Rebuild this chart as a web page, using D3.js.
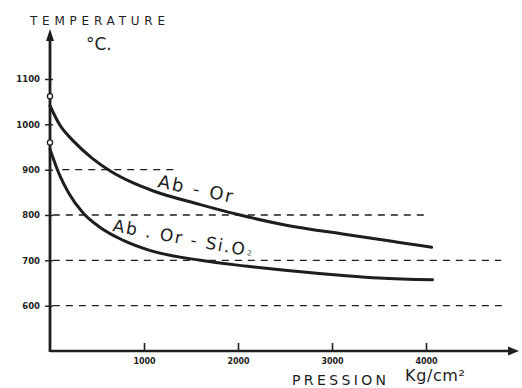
<!DOCTYPE html>
<html>
<head>
<meta charset="utf-8">
<script src="https://cdn.jsdelivr.net/npm/d3@7"></script>
<style>
  html, body { margin: 0; padding: 0; background: #fff; }
  svg { display: block; }
  text { font-family: "DejaVu Sans", "Noto Sans", sans-serif; fill: #1e1e1e; }
</style>
</head>
<body>
<script>
// ---- data (pressure in kg/cm², temperature in °C) ----
const abOrP = [0, 100, 250, 450, 650, 850, 1100, 1600, 2000, 2500, 3150, 3700, 4060];
const abOrT = [1041, 1000, 963, 925, 896, 874, 853, 823, 801, 778, 757, 740, 729];
const abOrSiP = [0, 100, 200, 350, 530, 780, 1060, 1600, 2100, 2500, 3150, 3500, 4070];
const abOrSiT = [945, 889, 848, 805, 773, 744, 722, 700, 687, 678, 666, 661, 657];
const markedT = [1062, 960];                // small circles on the temperature axis
const refLevels = [900, 800, 700, 600];      // dashed reference lines
const refFromP = [130, 30, 30, 30];
const refToP = [1360, 4000, 4800, 4860];
const xTicks = [1000, 2000, 3000, 4000];
const xTickLabels = ["1000", "2000", "3000", "4000"];
const yTicks = [600, 700, 800, 900, 1000, 1100];
const yTickLabels = ["600", "700", "800", "900", "1000", "1100"];

const W = 522, H = 388;
const svg = d3.select("body").append("svg").attr("width", W).attr("height", H);

const x = d3.scaleLinear().domain([0, 4000]).range([50, 426]);
const y = d3.scaleLinear().domain([500, 1100]).range([351, 79]);
const ink = "#1e1e1e";

// dashed reference lines
svg.append("g").selectAll("line").data(refLevels).join("line")
  .attr("x1", (d, i) => x(refFromP[i])).attr("x2", (d, i) => x(refToP[i]))
  .attr("y1", d => y(d)).attr("y2", d => y(d))
  .attr("stroke", ink).attr("stroke-width", 1.4).attr("stroke-dasharray", "7,6");

// axes
const x0 = x(0), yBase = y(500);
svg.append("line").attr("x1", x0).attr("x2", 512).attr("y1", yBase).attr("y2", yBase)
  .attr("stroke", ink).attr("stroke-width", 2.6);
svg.append("path").attr("d", `M519,${yBase} L508,${yBase - 4.5} L508,${yBase + 4.5} Z`).attr("fill", ink);
svg.append("line").attr("x1", x0).attr("x2", x0).attr("y1", 38).attr("y2", yBase + 1)
  .attr("stroke", ink).attr("stroke-width", 2.8);
svg.append("path").attr("d", `M${x0},29 L${x0 - 4},41 L${x0 + 4},41 Z`).attr("fill", ink);

// x axis ticks & labels
const xAxis = d3.axisBottom(x).tickValues(xTicks).tickSize(-8).tickPadding(7)
  .tickFormat((d, i) => xTickLabels[i]);
const gx = svg.append("g").attr("transform", `translate(0,${yBase})`).call(xAxis);
gx.select(".domain").remove();
gx.selectAll(".tick line").attr("stroke", ink).attr("stroke-width", 1.6);
gx.selectAll(".tick text").style("font-size", "8px").style("font-weight", "bold").attr("fill", ink)
  .attr("font-family", "DejaVu Sans");

// y axis ticks & labels
const yAxis = d3.axisLeft(y).tickValues(yTicks).tickSize(3).tickPadding(6)
  .tickFormat((d, i) => yTickLabels[i]);
const gy = svg.append("g").attr("transform", `translate(${x0 - 1},0)`).call(yAxis);
gy.select(".domain").remove();
gy.selectAll(".tick line").attr("stroke", ink).attr("stroke-width", 1.4).attr("x2", -4).attr("x1", 4);
gy.selectAll(".tick text").style("font-size", "8.5px").style("font-weight", "bold").attr("fill", ink)
  .attr("font-family", "DejaVu Sans");

// curves
const line = d3.line().x(d => x(d[0])).y(d => y(d[1])).curve(d3.curveMonotoneX);
svg.append("path").datum(abOrP.map((p, i) => [p, abOrT[i]]))
  .attr("d", line).attr("fill", "none").attr("stroke", ink).attr("stroke-width", 3)
  .attr("stroke-linecap", "round");
svg.append("path").datum(abOrSiP.map((p, i) => [p, abOrSiT[i]]))
  .attr("d", line).attr("fill", "none").attr("stroke", ink).attr("stroke-width", 3)
  .attr("stroke-linecap", "round");

// circles on axis
svg.append("g").selectAll("circle").data(markedT).join("circle")
  .attr("cx", x0).attr("cy", d => y(d)).attr("r", 2.6)
  .attr("fill", "#fff").attr("stroke", ink).attr("stroke-width", 1.3);

// titles
svg.append("text").attr("x", 30).attr("y", 25).text("TEMPERATURE")
  .attr("textLength", 135).attr("lengthAdjust", "spacing")
  .style("font-size", "12px");
svg.append("text").attr("x", 86).attr("y", 50).text("°C.")
  .style("font-size", "17px");
svg.append("text").attr("x", 292).attr("y", 385).text("PRESSION")
  .attr("textLength", 94).attr("lengthAdjust", "spacing")
  .style("font-size", "14px");
svg.append("text").attr("x", 405).attr("y", 381).text("Kg/cm²")
  .attr("textLength", 60).attr("lengthAdjust", "spacing")
  .style("font-size", "16px");

// curve labels
svg.append("text").attr("transform", "translate(157,187) rotate(12)").text("Ab - Or")
  .attr("textLength", 76).attr("lengthAdjust", "spacing")
  .style("font-size", "18px");
const low = svg.append("text").attr("transform", "translate(112,231) rotate(10.5)")
  .style("font-size", "17px");
low.append("tspan").text("Ab . Or - Si.O")
  .attr("textLength", 134).attr("lengthAdjust", "spacing");
low.append("tspan").text("2").attr("dx", 1).attr("dy", -1).style("font-size", "7px");
</script>
</body>
</html>
